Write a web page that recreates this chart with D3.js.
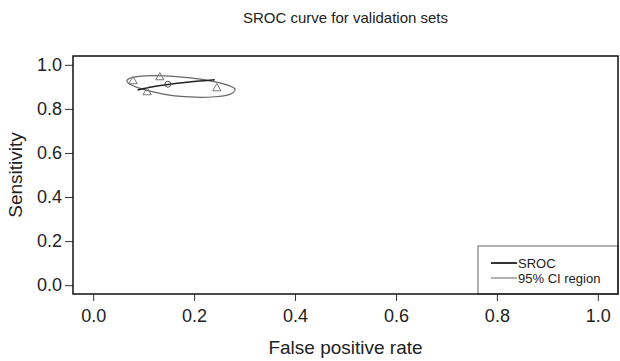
<!DOCTYPE html>
<html>
<head>
<meta charset="utf-8">
<script src="https://cdn.jsdelivr.net/npm/d3@7"></script>
<style>
  body { margin: 0; background: #fff; }
  text { font-family: "Liberation Sans", Arial, sans-serif; fill: #222; }
</style>
</head>
<body>
<svg id="chart" width="620" height="361"></svg>
<script>
// study points (fpr, sensitivity)
const studies = [
  [0.079, 0.925],
  [0.132, 0.943],
  [0.107, 0.875],
  [0.245, 0.893],
];
// summary estimate
const summary = [0.148, 0.912];
// SROC curve over observed fpr range
const srocCurve = [
  [0.088, 0.886],
  [0.115, 0.899],
  [0.148, 0.911],
  [0.19, 0.922],
  [0.241, 0.932],
];
// 95% confidence region outline
const ciRegion = [
  [0.067, 0.930], [0.079, 0.943], [0.103, 0.950], [0.142, 0.950],
  [0.182, 0.943], [0.221, 0.932], [0.255, 0.916], [0.277, 0.898],
  [0.281, 0.884], [0.271, 0.866], [0.241, 0.855], [0.202, 0.853],
  [0.162, 0.859], [0.123, 0.875], [0.093, 0.893], [0.073, 0.912],
];
const ticks = [0, 0.2, 0.4, 0.6, 0.8, 1.0];
const legendItems = [
  { label: "SROC", color: "#333", width: 2 },
  { label: "95% CI region", color: "#999", width: 1.5 },
];

const svg = d3.select("#chart");
const frame = { left: 73, right: 618, top: 56, bottom: 294 };

// R style: 4% padding around [0, 1]
const x = d3.scaleLinear().domain([-0.04, 1.04]).range([frame.left, frame.right]);
const y = d3.scaleLinear().domain([-0.04, 1.04]).range([frame.bottom, frame.top]);

svg.append("text")
  .attr("x", (frame.left + frame.right) / 2)
  .attr("y", 23)
  .attr("text-anchor", "middle")
  .style("font-size", "15px")
  .text("SROC curve for validation sets");

// axes
const xAxis = svg.append("g")
  .attr("transform", `translate(0,${frame.bottom})`)
  .call(d3.axisBottom(x).tickValues(ticks).tickFormat(d3.format(".1f")).tickSize(7).tickPadding(8));
const yAxis = svg.append("g")
  .attr("transform", `translate(${frame.left},0)`)
  .call(d3.axisLeft(y).tickValues(ticks).tickFormat(d3.format(".1f")).tickSize(8).tickPadding(3));
[xAxis, yAxis].forEach((g) => {
  g.select(".domain").remove();
  g.selectAll("line").attr("stroke", "#333");
  g.selectAll("text").style("font-size", "18px").attr("fill", "#222");
});

svg.append("text")
  .attr("x", (frame.left + frame.right) / 2)
  .attr("y", 354)
  .attr("text-anchor", "middle")
  .style("font-size", "19px")
  .text("False positive rate");

svg.append("text")
  .attr("transform", `translate(22,${(frame.top + frame.bottom) / 2}) rotate(-90)`)
  .attr("text-anchor", "middle")
  .style("font-size", "19px")
  .text("Sensitivity");

// confidence region
svg.append("path")
  .datum(ciRegion)
  .attr("d", d3.line().x((d) => x(d[0])).y((d) => y(d[1])).curve(d3.curveCardinalClosed))
  .attr("fill", "none")
  .attr("stroke", "#666")
  .attr("stroke-width", 1.2);

// SROC curve
svg.append("path")
  .datum(srocCurve)
  .attr("d", d3.line().x((d) => x(d[0])).y((d) => y(d[1])).curve(d3.curveMonotoneX))
  .attr("fill", "none")
  .attr("stroke", "#222")
  .attr("stroke-width", 1.5);

// study triangles
svg.selectAll(".study")
  .data(studies)
  .join("path")
  .attr("class", "study")
  .attr("transform", (d) => `translate(${x(d[0])},${y(d[1])})`)
  .attr("d", d3.symbol(d3.symbolTriangle, 30))
  .attr("fill", "none")
  .attr("stroke", "#777")
  .attr("stroke-width", 1);

// summary point
svg.append("circle")
  .attr("cx", x(summary[0]))
  .attr("cy", y(summary[1]))
  .attr("r", 3)
  .attr("fill", "none")
  .attr("stroke", "#555")
  .attr("stroke-width", 1);

// legend
const legend = svg.append("g");
legend.append("rect")
  .attr("x", 478)
  .attr("y", 246)
  .attr("width", frame.right - 478)
  .attr("height", frame.bottom - 246)
  .attr("fill", "#fff")
  .attr("stroke", "#999")
  .attr("stroke-width", 1.5);
const li = legend.selectAll(".li")
  .data(legendItems)
  .join("g")
  .attr("class", "li")
  .attr("transform", (d, i) => `translate(491,${263 + i * 15})`);
li.append("line")
  .attr("x1", 0).attr("x2", 26)
  .attr("stroke", (d) => d.color)
  .attr("stroke-width", (d) => d.width);
li.append("text")
  .attr("x", 27)
  .attr("dy", "0.35em")
  .style("font-size", "13px")
  .text((d) => d.label);

// plot frame
svg.append("rect")
  .attr("x", frame.left)
  .attr("y", frame.top)
  .attr("width", frame.right - frame.left)
  .attr("height", frame.bottom - frame.top)
  .attr("fill", "none")
  .attr("stroke", "#111")
  .attr("stroke-width", 1.5);
</script>
</body>
</html>
